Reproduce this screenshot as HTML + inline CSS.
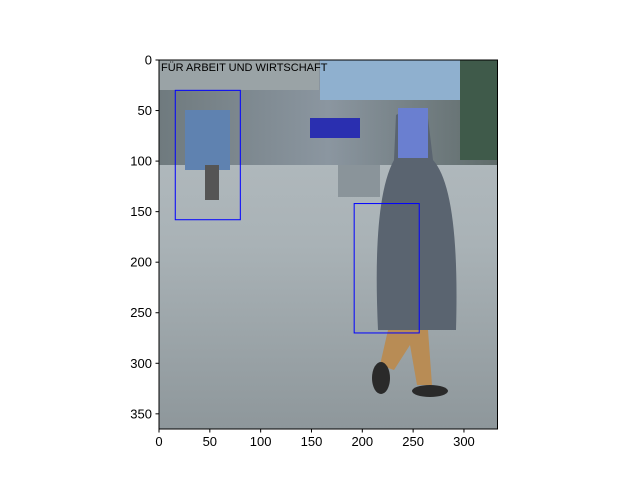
<!DOCTYPE html>
<html><head><meta charset="utf-8"><style>
body{margin:0;background:#fff;width:640px;height:480px;overflow:hidden;font-family:"Liberation Sans","DejaVu Sans",sans-serif}
</style></head><body>
<svg width="640" height="480" xmlns="http://www.w3.org/2000/svg">
<defs>
<linearGradient id="pave" x1="0" y1="0" x2="0" y2="1">
<stop offset="0" stop-color="#b7bfc3"/><stop offset="0.5" stop-color="#a9b2b6"/><stop offset="1" stop-color="#8e979b"/></linearGradient>
<linearGradient id="top" x1="0" y1="0" x2="1" y2="0">
<stop offset="0" stop-color="#6f7a7e"/><stop offset="0.5" stop-color="#8b96a0"/><stop offset="1" stop-color="#5f6b6a"/></linearGradient>
<clipPath id="ax"><rect x="159" y="60" width="338.5" height="369"/></clipPath>
</defs>
<g id="img" clip-path="url(#ax)">
<rect x="159" y="60" width="338.5" height="369" fill="url(#pave)"/>
<rect x="159" y="60" width="338.5" height="105" fill="url(#top)"/>
<rect x="159" y="60" width="160" height="30" fill="#9aa3a6"/>
<rect x="320" y="60" width="140" height="40" fill="#8fb0cf"/>
<rect x="460" y="60" width="38" height="100" fill="#3f5a4a"/>
<rect x="310" y="118" width="50" height="20" fill="#2a2fb0"/>
<rect x="338" y="165" width="42" height="32" fill="#8a949a"/>
<rect x="185" y="110" width="45" height="60" fill="#5f82b0"/>
<rect x="205" y="165" width="14" height="35" fill="#555"/>
<path d="M396 115 Q412 105 428 118 L433 160 Q460 190 456 330 L378 330 Q372 200 394 160 Z" fill="#5a6470"/>
<rect x="398" y="108" width="30" height="50" fill="#6a7fd0"/>
<path d="M388 330 L428 330 L432 385 L417 385 L410 345 L394 370 L380 365 Z" fill="#b88c55"/>
<ellipse cx="381" cy="378" rx="9" ry="16" fill="#2a2a2a"/>
<ellipse cx="430" cy="391" rx="18" ry="6" fill="#2a2a2a"/>
<text x="161" y="71" font-size="11" fill="#000">FÜR ARBEIT UND WIRTSCHAFT</text>
</g>
<g id="boxes" fill="none" stroke="#0000ff" stroke-width="1"></g>
<rect x="159" y="60" width="338.5" height="369" fill="none" stroke="#000" stroke-width="1"/>
<g id="xt" font-size="13" fill="#000" text-anchor="middle"></g>
<g id="yt" font-size="13" fill="#000" text-anchor="end"></g>
</svg>
<script>
const xTicks=[0,50,100,150,200,250,300];
const yTicks=[0,50,100,150,200,250,300,350];
const boxX=[16,192];const boxY=[30,142];const boxW=[64,64];const boxH=[128,128];
const imgW=333, imgH=365;
const x0=159,y0=60,W=338.5,H=369;
const sx=v=>x0+v*W/imgW, sy=v=>y0+v*H/imgH;
const ns='http://www.w3.org/2000/svg';
const bx=document.getElementById('boxes');
boxX.forEach((v,i)=>{const r=document.createElementNS(ns,'rect');
r.setAttribute('x',sx(v));r.setAttribute('y',sy(boxY[i]));
r.setAttribute('width',boxW[i]*W/imgW);r.setAttribute('height',boxH[i]*H/imgH);


bx.appendChild(r);});
const xt=document.getElementById('xt');
xTicks.forEach(v=>{const l=document.createElementNS(ns,'line');
l.setAttribute('x1',sx(v));l.setAttribute('x2',sx(v));l.setAttribute('y1',429);l.setAttribute('y2',432.5);l.setAttribute('stroke','#000');


xt.appendChild(l);
const t=document.createElementNS(ns,'text');t.setAttribute('x',sx(v));t.setAttribute('y',446);t.textContent=v;


xt.appendChild(t);});
const yt=document.getElementById('yt');
yTicks.forEach(v=>{const l=document.createElementNS(ns,'line');
l.setAttribute('x1',155.5);l.setAttribute('x2',159);l.setAttribute('y1',sy(v));l.setAttribute('y2',sy(v));l.setAttribute('stroke','#000');


yt.appendChild(l);
const t=document.createElementNS(ns,'text');t.setAttribute('x',152);t.setAttribute('y',sy(v)+4.5);t.textContent=v;


yt.appendChild(t);});
</script>
</body></html>
